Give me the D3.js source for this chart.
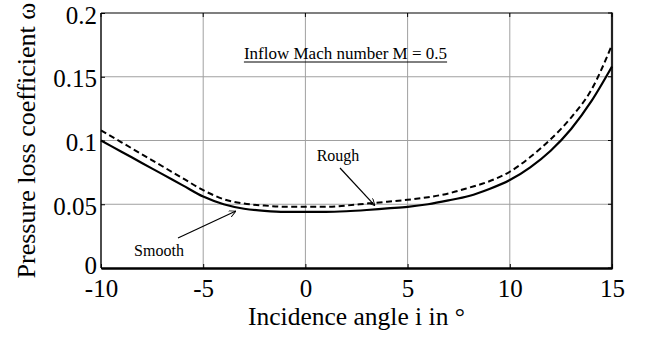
<!DOCTYPE html>
<html>
<head>
<meta charset="utf-8">
<script src="https://cdn.jsdelivr.net/npm/d3@7"></script>
<style>
  body { margin: 0; background: #fff; }
  svg { display: block; }
  svg text { font-family: "Liberation Serif", "DejaVu Serif", serif; }
</style>
</head>
<body>
<div id="chart"></div>
<script>
// incidence angle (deg) and pressure loss coefficient
const angles = [-10, -9, -8, -7, -6, -5, -4, -3, -2, -1, 0, 1, 2, 3, 4, 5, 6, 7, 8, 9, 10, 11, 12, 13, 14, 15];
const smooth = [0.100, 0.0912, 0.0824, 0.0736, 0.0648, 0.056, 0.050, 0.0465, 0.0448, 0.044, 0.044, 0.044, 0.0445, 0.0455, 0.0468, 0.048,
                0.050, 0.053, 0.0565, 0.062, 0.069, 0.079, 0.092, 0.109, 0.131, 0.158];
const rough = [0.108, 0.0986, 0.0892, 0.0798, 0.0704, 0.061, 0.054, 0.0505, 0.049, 0.048, 0.048, 0.048, 0.049, 0.0505, 0.052, 0.0535,
               0.0555, 0.0585, 0.063, 0.068, 0.0755, 0.087, 0.101, 0.118, 0.140, 0.175];
const xTicks = [-10, -5, 0, 5, 10, 15];
const yTicks = [0, 0.05, 0.1, 0.15, 0.2];

const width = 648, height = 338;
const margin = { top: 13, right: 36, bottom: 70, left: 101 };

const svg = d3.select('#chart').append('svg')
    .attr('width', width)
    .attr('height', height);

const x = d3.scaleLinear().domain([-10, 15]).range([margin.left, width - margin.right]);
const y = d3.scaleLinear().domain([0, 0.2]).range([height - margin.bottom, margin.top]);

const defs = svg.append('defs');
defs.append('marker')
    .attr('id', 'arrow')
    .attr('viewBox', '0 0 10 10')
    .attr('refX', 10).attr('refY', 5)
    .attr('markerWidth', 7).attr('markerHeight', 7)
    .attr('markerUnits', 'userSpaceOnUse')
    .attr('orient', 'auto')
    .append('path')
    .attr('d', 'M0,0L10,5L0,10')
    .attr('fill', 'none')
    .attr('stroke', '#000')
    .attr('stroke-width', 1.3);

// grid
svg.append('g').selectAll('line')
    .data(xTicks.slice(1, -1))
    .enter().append('line')
    .attr('x1', d => x(d)).attr('x2', d => x(d))
    .attr('y1', y(0.2)).attr('y2', y(0))
    .attr('stroke', '#a0a0a0').attr('stroke-width', 1);

svg.append('g').selectAll('line')
    .data(yTicks.slice(1, -1))
    .enter().append('line')
    .attr('x1', x(-10)).attr('x2', x(15))
    .attr('y1', d => y(d)).attr('y2', d => y(d))
    .attr('stroke', '#a0a0a0').attr('stroke-width', 1);

// frame
svg.append('line').attr('x1', x(-10)).attr('x2', x(15)).attr('y1', y(0.2)).attr('y2', y(0.2))
    .attr('stroke', '#000').attr('stroke-width', 1.2);
svg.append('line').attr('x1', x(-10)).attr('x2', x(-10)).attr('y1', y(0.2)).attr('y2', y(0))
    .attr('stroke', '#000').attr('stroke-width', 1.4);
svg.append('line').attr('x1', x(15)).attr('x2', x(15)).attr('y1', y(0.2) - 0.6).attr('y2', y(0) + 1)
    .attr('stroke', '#222').attr('stroke-width', 2.2);

// axes with inward ticks
const fmt = d => String(+d.toFixed(2));

const xAxis = svg.append('g')
    .attr('transform', `translate(0,${y(0)})`)
    .call(d3.axisBottom(x).tickValues(xTicks).tickSizeInner(-4).tickSizeOuter(0).tickPadding(12).tickFormat(d => d));
xAxis.attr('font-family', null).attr('font-size', null);
xAxis.select('.domain').attr('stroke', '#000').attr('stroke-width', 2.4);
xAxis.selectAll('.tick line').attr('stroke', '#000');
xAxis.selectAll('.tick text')
    .style('font-size', '25px')
    .attr('fill', '#000').attr('y', 29).attr('dy', 0);

const yAxis = svg.append('g')
    .attr('transform', `translate(${x(-10)},0)`)
    .call(d3.axisLeft(y).tickValues(yTicks).tickSizeInner(-4).tickSizeOuter(0).tickPadding(4).tickFormat(fmt));
yAxis.attr('font-family', null).attr('font-size', null);
yAxis.select('.domain').remove();
yAxis.selectAll('.tick line').attr('stroke', '#000');
yAxis.selectAll('.tick text')
    .style('font-size', '25px')
    .attr('fill', '#000').attr('dy', d => d === 0 ? 5 : 10);

// ticks on top and right
svg.append('g').selectAll('line').data(xTicks).enter().append('line')
    .attr('x1', d => x(d)).attr('x2', d => x(d))
    .attr('y1', y(0.2)).attr('y2', y(0.2) + 4)
    .attr('stroke', '#000');
svg.append('g').selectAll('line').data(yTicks).enter().append('line')
    .attr('x1', x(15)).attr('x2', x(15) - 4)
    .attr('y1', d => y(d)).attr('y2', d => y(d))
    .attr('stroke', '#000');

// curves
const line = d3.line()
    .x(d => x(d[0]))
    .y(d => y(d[1]))
    .curve(d3.curveMonotoneX);

svg.append('path')
    .datum(angles.map((a, i) => [a, rough[i]]))
    .attr('d', line)
    .attr('fill', 'none')
    .attr('stroke', '#000')
    .attr('stroke-width', 2)
    .attr('stroke-dasharray', '6,3.5');

svg.append('path')
    .datum(angles.map((a, i) => [a, smooth[i]]))
    .attr('d', line)
    .attr('fill', 'none')
    .attr('stroke', '#000')
    .attr('stroke-width', 2.2);

// title inside the plot, underlined
const title = svg.append('text')
    .attr('x', 345.5).attr('y', 58.5)
    .attr('text-anchor', 'middle')
    .style('font-size', '17px')
    .text('Inflow Mach number M = 0.5');
const tb = title.node().getBBox();
svg.append('line')
    .attr('x1', tb.x).attr('x2', tb.x + tb.width)
    .attr('y1', 62).attr('y2', 62)
    .attr('stroke', '#000').attr('stroke-width', 1);

// annotations
svg.append('text').attr('x', 338).attr('y', 161).attr('text-anchor', 'middle')
    .style('font-size', '16px').text('Rough');
svg.append('line')
    .attr('x1', 340).attr('y1', 168).attr('x2', x(3.4)).attr('y2', y(0.0505) + 2)
    .attr('stroke', '#000').attr('stroke-width', 1.2)
    .attr('marker-end', 'url(#arrow)');

svg.append('text').attr('x', 159).attr('y', 256).attr('text-anchor', 'middle')
    .style('font-size', '16px').text('Smooth');
svg.append('line')
    .attr('x1', 178).attr('y1', 238).attr('x2', x(-3.4)).attr('y2', y(0.047) + 3)
    .attr('stroke', '#000').attr('stroke-width', 1.2)
    .attr('marker-end', 'url(#arrow)');

// axis titles
svg.append('text')
    .attr('x', (x(-10) + x(15)) / 2).attr('y', 325)
    .attr('text-anchor', 'middle')
    .style('font-size', '25.5px')
    .text('Incidence angle i in °');

svg.append('text')
    .attr('transform', `translate(35,${(y(0) + y(0.2)) / 2}) rotate(-90)`)
    .attr('text-anchor', 'middle')
    .style('font-size', '26px')
    .text('Pressure loss coefficient ω');
</script>
</body>
</html>
